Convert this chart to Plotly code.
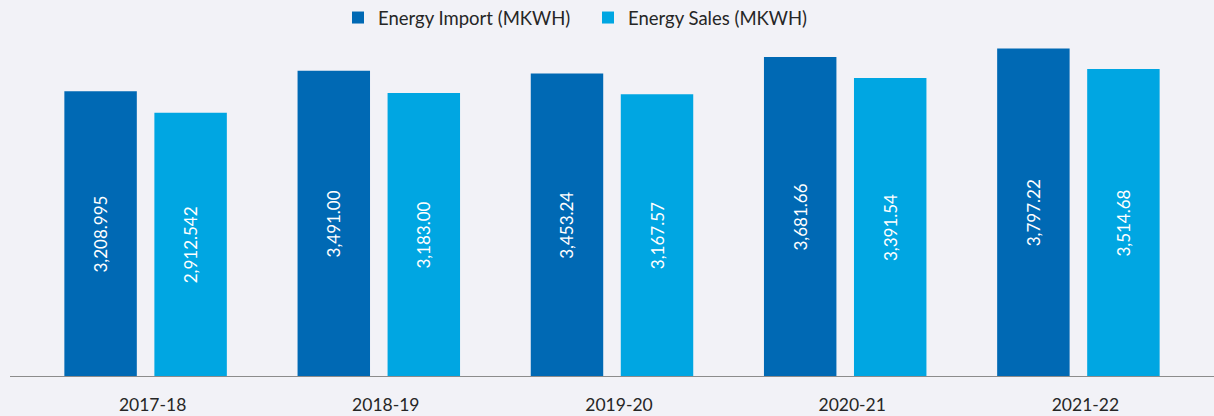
import plotly.graph_objects as go

# Annual energy figures (million kWh)
years = ["2017-18", "2018-19", "2019-20", "2020-21", "2021-22"]
energy_import = [3208.995, 3491.00, 3453.24, 3681.66, 3797.22]
energy_sales = [2912.542, 3183.00, 3167.57, 3391.54, 3514.68]
import_labels = ["3,208.995", "3,491.00", "3,453.24", "3,681.66", "3,797.22"]
sales_labels = ["2,912.542", "3,183.00", "3,167.57", "3,391.54", "3,514.68"]

# value axis does not start at zero; bars rise from the axis floor
AXIS_FLOOR = -730
AXIS_TOP = 4190

IMPORT_COLOR = "#0069B4"
SALES_COLOR = "#00A6E2"
BG = "#F2F2F7"
FONT = "Lato, 'Open Sans', sans-serif"


def bar_trace(name, values, labels, color, legend):
    return go.Bar(
        name=name,
        x=years,
        y=[v - AXIS_FLOOR for v in values],
        base=AXIS_FLOOR,
        marker=dict(color=color, line=dict(width=0)),
        text=labels,
        textposition="inside",
        insidetextanchor="middle",
        textangle=-90,
        textfont=dict(color="white", size=17, family=FONT),
        cliponaxis=False,
        legend=legend,
    )


fig = go.Figure()
fig.add_trace(bar_trace("Energy Import (MKWH)", energy_import, import_labels, IMPORT_COLOR, "legend"))
fig.add_trace(bar_trace("Energy Sales (MKWH)", energy_sales, sales_labels, SALES_COLOR, "legend2"))

plot_left, plot_right = 29, 1195
plot_w = plot_right - plot_left
plot_top, plot_bottom = 20, 377
plot_h = plot_bottom - plot_top

# baseline rule across the full width
fig.add_shape(
    type="line",
    xref="paper", yref="y",
    x0=(10 - plot_left) / plot_w, x1=(1214 - plot_left) / plot_w,
    y0=AXIS_FLOOR, y1=AXIS_FLOOR,
    line=dict(color="#8C8C8C", width=2),
)


def legend_box(left_px):
    return dict(
        orientation="h",
        x=(left_px - plot_left) / plot_w,
        xanchor="left",
        y=(plot_bottom - 18) / plot_h,
        yanchor="middle",
        font=dict(size=18.5, color="#262626", family=FONT),
        bgcolor="rgba(0,0,0,0)",
        itemwidth=30,
    )


fig.update_layout(
    width=1214,
    height=416,
    margin=dict(l=plot_left, r=1214 - plot_right, t=plot_top, b=416 - plot_bottom,
                autoexpand=False),
    paper_bgcolor=BG,
    plot_bgcolor=BG,
    barmode="group",
    bargap=0.228,
    bargroupgap=0.195,
    font=dict(family=FONT, color="#262626"),
    showlegend=True,
    legend=legend_box(338),
    legend2=legend_box(588),
    uniformtext=dict(mode=False),
)

fig.update_xaxes(
    type="category",
    showgrid=False,
    showline=False,
    zeroline=False,
    ticks="",
    tickfont=dict(size=17.5, color="#262626", family=FONT),
    ticklabelshift=7,
    ticklabelstandoff=15,
)
fig.update_yaxes(
    range=[AXIS_FLOOR, AXIS_TOP],
    visible=False,
    showgrid=False,
    zeroline=False,
)

fig.write_html("out.html")
